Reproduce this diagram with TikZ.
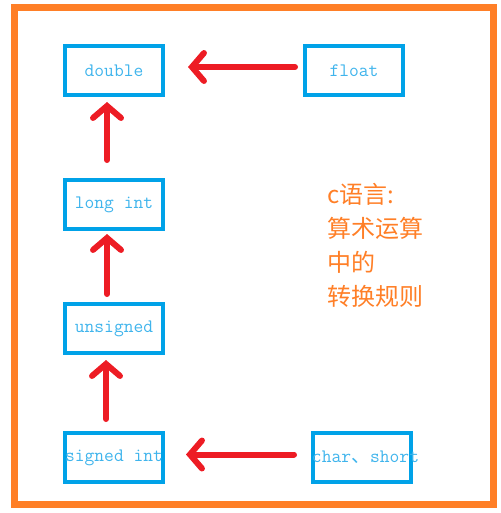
\documentclass[tikz,border=0pt]{standalone}
\usepackage{fontspec}
\newfontfamily\cjk{Noto Sans CJK SC}
\usetikzlibrary{positioning,arrows.meta}
\definecolor{frameorange}{RGB}{255,127,39}
\definecolor{arrowred}{RGB}{237,28,36}
\definecolor{boxblue}{RGB}{0,162,232}
\definecolor{typeblue}{RGB}{63,180,236}
\newcommand{\ConvShift}{7pt}

\begin{document}
\begin{tikzpicture}[x=1pt, y=-1pt,
		typebox/.style={draw=boxblue, line width=4pt, minimum width=98pt, minimum height=49pt, inner sep=0pt, text=typeblue, font=\ttfamily\fontsize{19pt}{20pt}\selectfont},
		conv/.style={draw=arrowred, line width=6pt, line cap=round, -{Straight Barb[length=12pt, width=28pt, line cap=round]}}]
		\useasboundingbox (0,0) rectangle (500,513);
		\draw [frameorange, line width=7pt] (14,7.5) rectangle (493.5,504);

		\node[typebox] (t1) at (114,70.5) {double};
		\node[typebox, below=81pt of t1] (t2) {long int};
		\node[typebox, below=71pt of t2] (t3) {unsigned};
		\node[typebox, below=76pt of t3] (t4) {\makebox[0pt]{signed int}};
		\node[typebox, right=138pt of t1] (f1) {float};
		\node[typebox, right=146pt of t4] (c1) {\makebox[0pt]{\hspace{7pt}char{\cjk 、}short}};

		\draw[conv, shorten <=18pt, shorten >=5pt] ([xshift=-\ConvShift]t2.north) -- ([xshift=-\ConvShift]t1.south);
		\draw[conv, shorten <=8pt, shorten >=3pt] ([xshift=-\ConvShift]t3.north) -- ([xshift=-\ConvShift]t2.south);
		\draw[conv, shorten <=12pt, shorten >=5pt] ([xshift=-\ConvShift-1pt]t4.north) -- ([xshift=-\ConvShift-1pt]t3.south);
		\draw[conv, shorten <=8pt, shorten >=23pt] ([yshift=3.5pt]f1.west) -- ([yshift=3.5pt]t1.east);
		\draw[conv, shorten <=17pt, shorten >=21pt] ([yshift=3pt]c1.west) -- ([yshift=3pt]t4.east);

		\node[anchor=north west, inner sep=0pt, align=left, text=frameorange, font=\cjk\fontsize{24pt}{34pt}\selectfont] (rule) at (327,183) {c语言:\\算术运算\\中的\\转换规则};
\end{tikzpicture}
\end{document}
